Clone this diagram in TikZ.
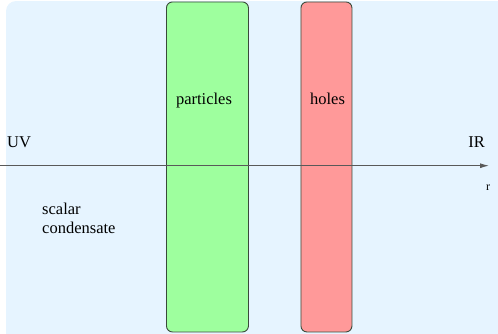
\documentclass[tikz,border=0pt]{standalone}
\usepackage{fontspec}
\newfontfamily\tms[Path=/usr/share/fonts/truetype/liberation/, Extension=.ttf, UprightFont=LiberationSerif-Regular]{LiberationSerif}
\usetikzlibrary{arrows.meta}
\definecolor{bgblue}{HTML}{E6F4FF}
\definecolor{partgreen}{HTML}{9EFF9E}
\definecolor{holered}{HTML}{FF9999}
\definecolor{edgegray}{HTML}{3A4A3A}
\tikzset{
  band/.style={draw=edgegray, line width=0.9pt, rounded corners=6pt},
  lbl/.style={font=\tms\fontsize{16.5}{19}\selectfont, inner sep=0pt},
}
\begin{document}
\begin{tikzpicture}[x=1pt,y=-1pt]
\useasboundingbox (0,0) rectangle (498,333);
\fill[bgblue, rounded corners=10pt] (6,1) rectangle (510,345);
\fill[bgblue] (6,20) rectangle (498,333);
\fill[bgblue] (20,1) rectangle (498,333);
\node[band, fill=partgreen, minimum width=82pt, minimum height=330pt, anchor=north west, inner sep=0pt] (P) at (166,1.5) {};
\node[band, fill=holered, minimum width=51pt, minimum height=330pt, anchor=north west, inner sep=0pt] (H) at (300.5,1.5) {};
\coordinate (A0) at (0,165.7);
\coordinate (A1) at (489,165.7);
\draw[line width=0.9pt, draw=black!65, -{Latex[length=9pt,width=5pt]}] (A0) -- (A1);
\node[lbl, anchor=base] (pl) at (204,104) {particles};
\node[lbl, anchor=base] (hl) at (327.5,104) {holes};
\node[lbl, anchor=base west] (uv) at (7,147) {UV};
\node[lbl, anchor=base east] (ir) at (485,147) {IR};
\node[font=\tms\fontsize{12}{14}\selectfont, inner sep=0pt, anchor=base] (r) at (488,190) {r};
\node[lbl, anchor=north west, align=left, font=\tms\fontsize{16.5}{18.5}\selectfont] (sc) at (42,203) {scalar\\condensate};
\end{tikzpicture}
\end{document}
